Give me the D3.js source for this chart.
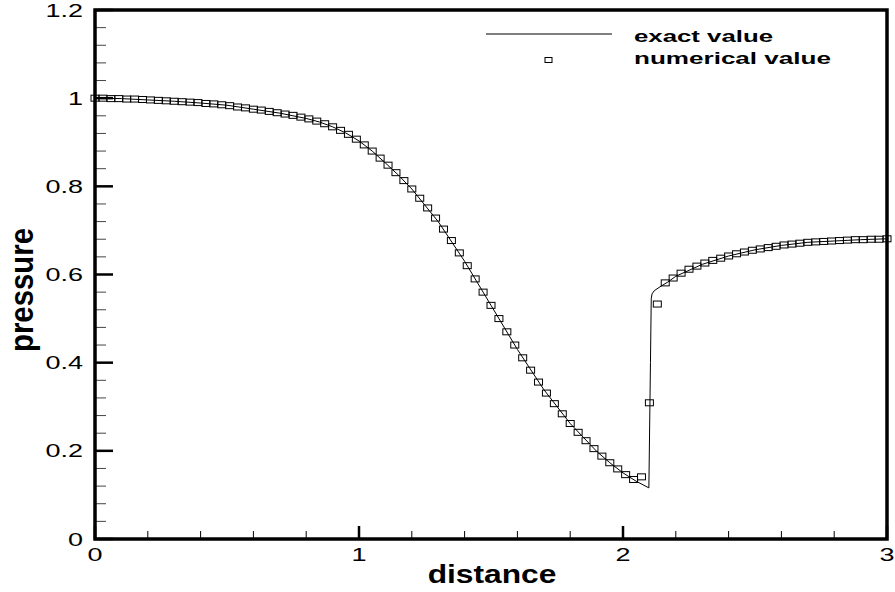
<!DOCTYPE html>
<html>
<head>
<meta charset="utf-8">
<script src="https://cdn.jsdelivr.net/npm/d3@7"></script>
<style>
  body { margin: 0; background: #fff; }
  text { font-family: "Liberation Sans", Arial, sans-serif; fill: #000; }
</style>
</head>
<body>
<div id="chart"></div>
<script>
// numerical solution: cell positions and pressure
const numX = [0, 0.03, 0.06, 0.09, 0.12, 0.15, 0.18, 0.21, 0.24, 0.27,
  0.3, 0.33, 0.36, 0.39, 0.42, 0.45, 0.48, 0.51, 0.54, 0.57,
  0.6, 0.63, 0.66, 0.69, 0.72, 0.75, 0.78, 0.81, 0.84, 0.87,
  0.9, 0.93, 0.96, 0.99, 1.02, 1.05, 1.08, 1.11, 1.14, 1.17,
  1.2, 1.23, 1.26, 1.29, 1.32, 1.35, 1.38, 1.41, 1.44, 1.47,
  1.5, 1.53, 1.56, 1.59, 1.62, 1.65, 1.68, 1.71, 1.74, 1.77,
  1.8, 1.83, 1.86, 1.89, 1.92, 1.95, 1.98, 2.01, 2.04, 2.07,
  2.1, 2.13, 2.16, 2.19, 2.22, 2.25, 2.28, 2.31, 2.34, 2.37,
  2.4, 2.43, 2.46, 2.49, 2.52, 2.55, 2.58, 2.61, 2.64, 2.67,
  2.7, 2.73, 2.76, 2.79, 2.82, 2.85, 2.88, 2.91, 2.94, 2.97, 3.0]
const numP = [1.000, 1.000, 0.999, 0.999, 0.998, 0.998, 0.997, 0.996, 0.995, 0.994,
  0.993, 0.992, 0.991, 0.990, 0.988, 0.987, 0.985, 0.983, 0.980, 0.978,
  0.975, 0.973, 0.970, 0.967, 0.964, 0.961, 0.957, 0.953, 0.948, 0.942,
  0.935, 0.927, 0.918, 0.907, 0.894, 0.880, 0.864, 0.848, 0.831, 0.813,
  0.794, 0.773, 0.751, 0.728, 0.703, 0.677, 0.649, 0.620, 0.590, 0.560,
  0.530, 0.500, 0.470, 0.440, 0.411, 0.383, 0.356, 0.331, 0.307, 0.284,
  0.262, 0.242, 0.223, 0.205, 0.188, 0.173, 0.159, 0.146, 0.135, 0.141,
  0.309, 0.533, 0.581, 0.592, 0.603, 0.612, 0.619, 0.626, 0.632, 0.637,
  0.642, 0.647, 0.651, 0.655, 0.658, 0.661, 0.664, 0.667, 0.669, 0.671,
  0.673, 0.674, 0.675, 0.676, 0.677, 0.678, 0.679, 0.679, 0.680, 0.680, 0.681]

// exact solution
const exactX = [0, 0.1, 0.2, 0.3, 0.4, 0.5, 0.6, 0.7, 0.8, 0.85, 0.9, 0.95, 1.0, 1.05,
  1.1, 1.15, 1.2, 1.3, 1.4, 1.5, 1.6, 1.7, 1.8, 1.9, 1.95, 2.0, 2.05, 2.098,
  2.104, 2.107, 2.110, 2.118, 2.14, 2.17, 2.2, 2.3, 2.4, 2.5, 2.6, 2.7, 2.8, 2.9, 3.0]
const exactP = [1.000, 0.999, 0.996, 0.993, 0.989, 0.984, 0.975, 0.966, 0.954, 0.946, 0.935, 0.921, 0.903, 0.880,
  0.853, 0.825, 0.794, 0.720, 0.630, 0.530, 0.430, 0.339, 0.262, 0.199, 0.173, 0.150, 0.131, 0.116,
  0.400, 0.545, 0.556, 0.563, 0.572, 0.583, 0.596, 0.623, 0.642, 0.656, 0.666, 0.673, 0.676, 0.679, 0.681]

const xMajor = [0, 1, 2, 3]
const xMinor = [0.2, 0.4, 0.6, 0.8, 1.2, 1.4, 1.6, 1.8, 2.2, 2.4, 2.6, 2.8]
const yMajor = [0, 0.2, 0.4, 0.6, 0.8, 1, 1.2]
const yMinor = [0.04, 0.08, 0.12, 0.16, 0.24, 0.28, 0.32, 0.36, 0.44, 0.48, 0.52, 0.56,
  0.64, 0.68, 0.72, 0.76, 0.84, 0.88, 0.92, 0.96, 1.04, 1.08, 1.12, 1.16]
const legendLabels = ["exact value", "numerical value"]

const width = 895, height = 592
const margin = { top: 10, right: 8, bottom: 53, left: 95 }
const stretch = 1.5

const x = d3.scaleLinear().domain([0, 3]).range([margin.left, width - margin.right])
const y = d3.scaleLinear().domain([0, 1.2]).range([height - margin.bottom, margin.top])

const svg = d3.select("#chart").append("svg")
    .attr("width", width)
    .attr("height", height)

// ticks
svg.append("g").attr("stroke", "#000")
    .selectAll("line").data(xMinor).join("line")
    .attr("x1", d => x(d)).attr("x2", d => x(d))
    .attr("y1", y(0)).attr("y2", y(0) - 8)
    .attr("stroke-width", 1)
svg.append("g").attr("stroke", "#000")
    .selectAll("line").data(xMajor).join("line")
    .attr("x1", d => x(d)).attr("x2", d => x(d))
    .attr("y1", y(0)).attr("y2", y(0) - 13)
    .attr("stroke-width", 2.5)
svg.append("g").attr("stroke", "#444")
    .selectAll("line").data(yMinor).join("line")
    .attr("x1", x(0)).attr("x2", x(0) + 11)
    .attr("y1", d => y(d)).attr("y2", d => y(d))
    .attr("stroke-width", 1)
svg.append("g").attr("stroke", "#000")
    .selectAll("line").data(yMajor).join("line")
    .attr("x1", x(0)).attr("x2", x(0) + 18)
    .attr("y1", d => y(d)).attr("y2", d => y(d))
    .attr("stroke-width", 2.5)

// frame
svg.append("rect")
    .attr("x", x(0)).attr("y", y(1.2))
    .attr("width", x(3) - x(0)).attr("height", y(0) - y(1.2))
    .attr("fill", "none").attr("stroke", "#000").attr("stroke-width", 3.5)

// tick labels
svg.append("g").selectAll("text").data(yMajor).join("text")
    .attr("transform", d => `translate(83,${y(d) + 6.5}) scale(${stretch},1)`)
    .attr("text-anchor", "end")
    .attr("font-size", 18)
    .text(d => d)
svg.append("g").selectAll("text").data(xMajor).join("text")
    .attr("transform", d => `translate(${x(d)},561) scale(${stretch},1)`)
    .attr("text-anchor", "middle")
    .attr("font-size", 18)
    .text(d => d)

// axis titles
svg.append("text")
    .attr("transform", `translate(492,583) scale(1.27,1)`)
    .attr("text-anchor", "middle")
    .attr("font-size", 25).attr("font-weight", "bold")
    .text("distance")
svg.append("text")
    .attr("transform", `translate(33,290) scale(1.2,1) rotate(-90)`)
    .attr("text-anchor", "middle")
    .attr("font-size", 28).attr("font-weight", "bold")
    .attr("textLength", 124).attr("lengthAdjust", "spacingAndGlyphs")
    .text("pressure")

// exact line
const line = d3.line().x(d => x(d[0])).y(d => y(d[1]))
svg.append("path")
    .datum(exactX.map((d, i) => [d, exactP[i]]))
    .attr("fill", "none").attr("stroke", "#000").attr("stroke-width", 1)
    .attr("d", line)

// numerical squares
svg.append("g")
    .selectAll("rect").data(numX.map((d, i) => [d, numP[i]])).join("rect")
    .attr("x", d => x(d[0]) - 4).attr("y", d => y(d[1]) - 3)
    .attr("width", 8).attr("height", 6)
    .attr("fill", "none").attr("stroke", "#000").attr("stroke-width", 1)

// legend
const legend = svg.append("g")
legend.append("line")
    .attr("x1", 486).attr("x2", 612).attr("y1", 34).attr("y2", 34)
    .attr("stroke", "#000").attr("stroke-width", 1)
legend.append("rect")
    .attr("x", 545).attr("y", 57.5).attr("width", 7).attr("height", 5)
    .attr("fill", "none").attr("stroke", "#000").attr("stroke-width", 1)
legend.selectAll("text").data(legendLabels).join("text")
    .attr("x", 634).attr("y", (d, i) => 42 + i * 22)
    .attr("font-size", 17).attr("font-weight", "bold")
    .attr("textLength", (d, i) => i ? 197 : 139).attr("lengthAdjust", "spacingAndGlyphs")
    .text(d => d)
</script>
</body>
</html>
